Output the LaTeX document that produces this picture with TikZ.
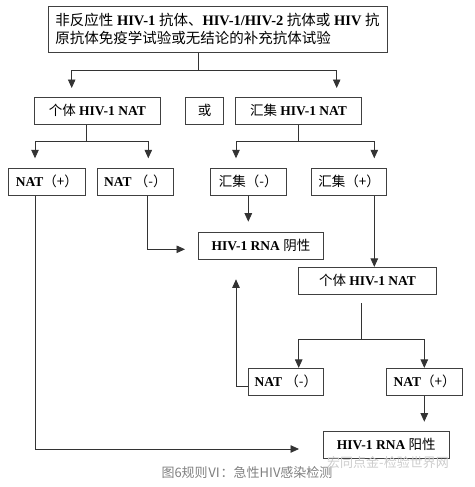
\documentclass[tikz,border=0pt]{standalone}
\usepackage{fontspec}
\setmainfont{Liberation Serif}
\newfontfamily\cjk{Noto Sans CJK SC}
\usetikzlibrary{arrows.meta,calc,positioning}
\newcommand{\zh}[1]{{\cjk #1}}
\newcommand{\lat}[1]{\textbf{#1}}

\tikzset{
  box/.style={draw=black!75, line width=0.8pt, minimum height=27pt, inner sep=0pt,
    font=\fontsize{13.5}{15}\selectfont},
  link/.style={draw=black!80, line width=0.8pt},
  arr/.style={link, -{Triangle[length=8.5pt,width=7.5pt]}}
}

\begin{document}
\begin{tikzpicture}[x=1pt,y=-1pt]
\useasboundingbox (0,0) rectangle (474,487);

% boxes
\node[box, minimum width=339pt, minimum height=46pt, align=left,
  font=\fontsize{14.5}{17.6}\selectfont] (top) at (217.5,29.2)
  {\zh{非反应性} \lat{HIV-1} \zh{抗体、}\lat{HIV-1/HIV-2} \zh{抗体或} \lat{HIV} \zh{抗}\\
   \zh{原抗体免疫学试验或无结论的补充抗体试验}};
\node[box, minimum width=126pt] (ind1) at (97.3,110.7) {\zh{个体} \lat{HIV-1 NAT}};
\node[box, minimum width=37.6pt] (or) at (204.5,110.7) {\zh{或}};
\node[box, minimum width=126.4pt] (pool) at (298.5,110.7) {\zh{汇集} \lat{HIV-1 NAT}};
\node[box, minimum width=77pt] (natp1) at (46.8,181.8) {\lat{NAT}\zh{（+）}};
\node[box, minimum width=76pt] (natn1) at (135.3,181.8) {\lat{NAT} \zh{（-）}};
\node[box, minimum width=76pt] (pooln) at (248.3,181.8) {\zh{汇集（-）}};
\node[box, minimum width=75.4pt] (poolp) at (349,181.8) {\zh{汇集（+）}};
\node[box, minimum width=124.6pt] (neg) at (261,245.8) {\lat{HIV-1 RNA} \zh{阴性}};
\node[box, minimum width=138.4pt] (ind2) at (367.5,280.8) {\zh{个体} \lat{HIV-1 NAT}};
\node[box, minimum width=75pt] (natn2) at (285.8,381.8) {\lat{NAT} \zh{（-）}};
\node[box, minimum width=76.4pt] (natp2) at (424.5,381.8) {\lat{NAT}\zh{（+）}};
\node[box, minimum width=126pt] (pos) at (386.3,444.5) {\lat{HIV-1 RNA} \zh{阳性}};

% caption and watermark
\node[text=black!50, font=\fontsize{13}{15}\selectfont] (cap) at (247,473)
  {\zh{图6规则Ⅵ：急性HIV感染检测}};
\node[text=black!20, font=\fontsize{13}{15}\selectfont] (wm) at (388,463)
  {\zh{宏同点金-检验世界网}};

% branch points and arrow ends
\coordinate (j0) at (198.3,70);
\coordinate (e1) at (71.7,88);
\coordinate (e2) at (336.7,88);
\coordinate (j1) at (86,141.7);
\coordinate (e3) at (35,158.3);
\coordinate (e4) at (148.3,158.3);
\coordinate (j2) at (298.3,141.7);
\coordinate (e5) at (236,158.3);
\coordinate (e6) at (374.3,158.3);
\coordinate (e7) at (248.3,221.7);
\coordinate (e8) at (185,249.3);
\coordinate (j3) at (361.7,339.3);
\coordinate (e9) at (236,279.3);
\coordinate (e10) at (424.3,421.7);
\coordinate (e11) at (299,449);

% connectors
\draw[link] (top.south -| j0) -- (j0);
\draw[arr] (j0) -| (e1);
\draw[arr] (j0) -| (e2);
\draw[link] (ind1.south -| j1) -- (j1);
\draw[arr] (j1) -| (e3);
\draw[arr] (j1) -| (e4);
\draw[link] (pool.south -| j2) -- (j2);
\draw[arr] (j2) -| (e5);
\draw[arr] (j2) -| (e6);
\draw[arr] (pooln.south) -- (e7);
\draw[arr] (natn1.south -| 147.7,0) |- (e8);
\draw[arr] (poolp.south -| e6) -- (ind2.north -| e6);
\draw[link] (j3 |- 0,303.3) -- (j3);
\draw[arr] (j3) -| (natn2.north -| 298.7,0);
\draw[arr] (j3) -| (natp2.north -| e10);
\draw[arr] (natn2.west |- 0,386) -| (e9);
\draw[arr] (natp2.south -| e10) -- (e10);
\draw[arr] (natp1.south -| e3) |- (e11);
\end{tikzpicture}
\end{document}
